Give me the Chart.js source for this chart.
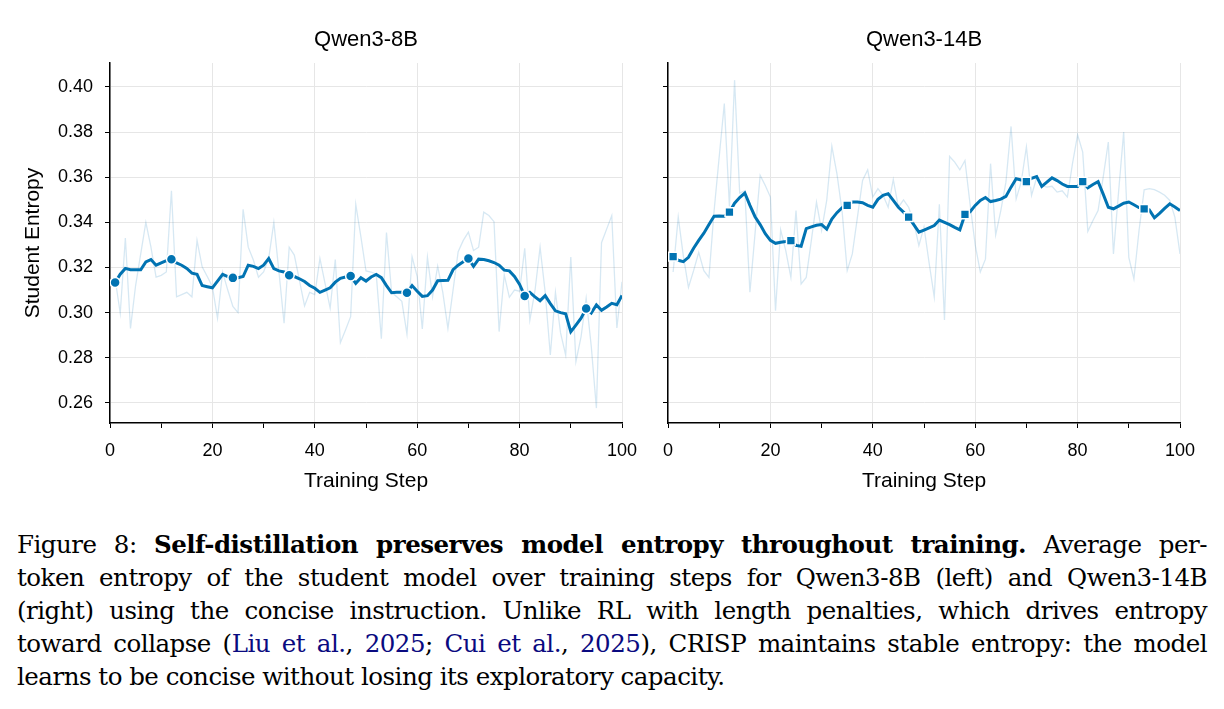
<!DOCTYPE html>
<html>
<head>
<meta charset="utf-8">
<script src="https://cdn.jsdelivr.net/npm/chart.js@4.4.1/dist/chart.umd.min.js"></script>
<style>
  html, body { margin: 0; padding: 0; background: #fff; }
  body { width: 1224px; height: 709px; position: relative; overflow: hidden; }
  .box { position: absolute; top: 0; height: 510px; }
  #left { left: 0; width: 640px; }
  #right { left: 640px; width: 584px; }
  #caption {
    position: absolute; left: 17px; top: 528px; width: 1190px;
    font-family: "DejaVu Serif", "Liberation Serif", serif;
    font-size: 24.5px; letter-spacing: -0.5px; line-height: 33px; color: #000;
  }
  .ln { text-align: justify; text-align-last: justify; }
  .ln.last { text-align-last: left; }
  .ref { color: #0a0a80; }
</style>
</head>
<body>
<div class="box" id="left"><canvas id="c8"></canvas></div>
<div class="box" id="right"><canvas id="c14"></canvas></div>
<div id="caption">
  <div class="ln">Figure 8: <b>Self-distillation preserves model entropy throughout training.</b> Average per-</div>
  <div class="ln">token entropy of the student model over training steps for Qwen3-8B (left) and Qwen3-14B</div>
  <div class="ln">(right) using the concise instruction. Unlike RL with length penalties, which drives entropy</div>
  <div class="ln">toward collapse (<span class="ref">Liu et al.</span>, <span class="ref">2025</span>; <span class="ref">Cui et al.</span>, <span class="ref">2025</span>), CRISP maintains stable entropy: the model</div>
  <div class="ln last">learns to be concise without losing its exploratory capacity.</div>
</div>
<script>
// training steps 1..100
const steps = Array.from({ length: 100 }, (_, i) => i + 1);
const markerSteps = [1, 12, 24, 35, 47, 58, 70, 81, 93];
const xTicks = [0, 10, 20, 30, 40, 50, 60, 70, 80, 90, 100];
const yTicks = [0.26, 0.28, 0.30, 0.32, 0.34, 0.36, 0.38, 0.40];

// Qwen3-8B: raw per-step entropy and smoothed curve
const raw8 = [
  0.315, 0.2997, 0.3331, 0.293, 0.312, 0.326, 0.340, 0.329, 0.3157, 0.3165,
  0.318, 0.354, 0.307, 0.308, 0.309, 0.307, 0.332, 0.3203, 0.316, 0.3115,
  0.2975, 0.318, 0.310, 0.3027, 0.300, 0.3458, 0.329, 0.3233, 0.3157, 0.318,
  0.324, 0.340, 0.318, 0.2953, 0.329, 0.3255, 0.3143, 0.303, 0.309, 0.308,
  0.324, 0.313, 0.302, 0.3235, 0.2867, 0.2923, 0.2982, 0.348, 0.3337, 0.3185,
  0.318, 0.317, 0.2884, 0.3355, 0.309, 0.307, 0.305, 0.2905, 0.3247, 0.316,
  0.2928, 0.3245, 0.307, 0.3206, 0.309, 0.293, 0.310, 0.327, 0.332, 0.3357,
  0.3275, 0.329, 0.3445, 0.343, 0.3403, 0.2916, 0.3167, 0.3068, 0.310, 0.3095,
  0.3285, 0.2967, 0.3096, 0.329, 0.309, 0.2812, 0.309, 0.291, 0.2812, 0.3246,
  0.2783, 0.2893, 0.3064, 0.285, 0.2577, 0.331, 0.337, 0.343, 0.2932, 0.3137
];
const smooth8 = [
  0.3133, 0.317, 0.3196, 0.319, 0.319, 0.319, 0.3225, 0.3235, 0.321, 0.322,
  0.323, 0.3237, 0.322, 0.321, 0.3196, 0.3175, 0.317, 0.312, 0.3115, 0.311,
  0.314, 0.317, 0.316, 0.3154, 0.3155, 0.316, 0.321, 0.3205, 0.3195, 0.321,
  0.324, 0.3195, 0.3185, 0.318, 0.3166, 0.316, 0.315, 0.3138, 0.312, 0.3108,
  0.309, 0.310, 0.311, 0.3135, 0.3152, 0.3158, 0.3162, 0.313, 0.3155, 0.314,
  0.3158, 0.3169, 0.3155, 0.312, 0.3088, 0.309, 0.309, 0.3088, 0.312, 0.3095,
  0.3072, 0.3075, 0.310, 0.3141, 0.3142, 0.3143, 0.319, 0.321, 0.3225, 0.324,
  0.3205, 0.3237, 0.3235, 0.323, 0.3222, 0.321, 0.3188, 0.3185, 0.316, 0.3125,
  0.3074, 0.309, 0.307, 0.3053, 0.3075, 0.304, 0.3008, 0.300, 0.2995, 0.2915,
  0.2945, 0.2975, 0.3018, 0.2998, 0.3034, 0.301, 0.3025, 0.3041, 0.3035, 0.3076
];

// Qwen3-14B
const raw14 = [
  0.318, 0.3423, 0.325, 0.3112, 0.3186, 0.3267, 0.3186, 0.3156, 0.345, 0.369,
  0.3926, 0.347, 0.403, 0.353, 0.354, 0.309, 0.335, 0.3608, 0.3563, 0.3512,
  0.3008, 0.3367, 0.3275, 0.3156, 0.3452, 0.3127, 0.3156, 0.332, 0.3489, 0.3364,
  0.3497, 0.3737, 0.3615, 0.345, 0.3186, 0.326, 0.3423, 0.3586, 0.3633, 0.3512,
  0.3549, 0.352, 0.3467, 0.359, 0.3467, 0.350, 0.3467, 0.340, 0.3297, 0.338,
  0.322, 0.307, 0.348, 0.2967, 0.3692, 0.3667, 0.3633, 0.3674, 0.348, 0.330,
  0.318, 0.3237, 0.366, 0.3345, 0.3452, 0.3578, 0.3825, 0.3504, 0.358, 0.3734,
  0.3519, 0.3597, 0.3563, 0.3556, 0.356, 0.3534, 0.354, 0.3512, 0.366, 0.3788,
  0.3711, 0.336, 0.3408, 0.3452, 0.360, 0.3756, 0.326, 0.3534, 0.380, 0.3245,
  0.3149, 0.3364, 0.3544, 0.3549, 0.3545, 0.3534, 0.352, 0.3497, 0.3423, 0.326
];
const smooth14 = [
  0.3248, 0.3232, 0.3226, 0.3245, 0.3285, 0.332, 0.3352, 0.339, 0.3427, 0.3428,
  0.3427, 0.3445, 0.3485, 0.351, 0.353, 0.3475, 0.3425, 0.339, 0.335, 0.332,
  0.3307, 0.3312, 0.3315, 0.3319, 0.3298, 0.3294, 0.3372, 0.338, 0.3387, 0.339,
  0.337, 0.3415, 0.3443, 0.3465, 0.3475, 0.349, 0.349, 0.3487, 0.3475, 0.3467,
  0.3502, 0.352, 0.3527, 0.3497, 0.3467, 0.3445, 0.3423, 0.339, 0.3357, 0.3366,
  0.3376, 0.3386, 0.341, 0.340, 0.339, 0.3378, 0.3367, 0.3435, 0.3447, 0.3475,
  0.3497, 0.351, 0.3492, 0.3497, 0.3503, 0.3515, 0.3556, 0.3593, 0.3588, 0.358,
  0.3595, 0.3603, 0.3559, 0.3578, 0.3597, 0.3585, 0.357, 0.3559, 0.3559, 0.3559,
  0.358, 0.3553, 0.3568, 0.358, 0.3525, 0.3467, 0.346, 0.3472, 0.3485, 0.349,
  0.3478, 0.3465, 0.346, 0.3455, 0.342, 0.344, 0.3462, 0.3482, 0.3468, 0.3452
];

const blue = "#0173b2";
const rawColor = "rgba(1, 115, 178, 0.16)";
const gridColor = "#e6e6e6";

Chart.defaults.font.family = "'Liberation Sans', Arial, sans-serif";
Chart.defaults.color = "#000";

function pts(vals) {
  return steps.map((s, i) => ({ x: s, y: vals[i] }));
}

function makeChart(id, title, raw, smooth, marker, isLeft) {
  const mr = marker === "rect" ? 6.2 : 5;
  return new Chart(document.getElementById(id), {
    type: "line",
    data: {
      datasets: [
        {
          data: pts(smooth),
          borderColor: blue,
          borderWidth: 3,
          tension: 0,
          pointStyle: marker,
          pointRadius: ctx => markerSteps.includes(ctx.raw && ctx.raw.x) ? mr : 0,
          pointHoverRadius: 0,
          pointBackgroundColor: blue,
          pointBorderColor: "#fff",
          pointBorderWidth: 1.5
        },
        {
          data: pts(raw),
          borderColor: rawColor,
          borderWidth: 1.3,
          tension: 0,
          pointRadius: 0
        }
      ]
    },
    options: {
      responsive: true,
      maintainAspectRatio: false,
      animation: false,
      events: [],
      layout: { padding: { left: 0, right: isLeft ? 18 : 44, top: 0, bottom: 0 } },
      plugins: {
        legend: { display: false },
        tooltip: { enabled: false },
        title: {
          display: true,
          text: title,
          fullSize: false,
          font: { size: 22, weight: "normal" },
          padding: { top: 26.8, bottom: 9.8 },
          color: "#000"
        }
      },
      scales: {
        x: {
          type: "linear",
          min: 0,
          max: 100,
          afterBuildTicks: s => { s.ticks = xTicks.map(v => ({ value: v })); },
          afterFit: s => { s.height = 87; s.paddingLeft = 0; s.paddingRight = 0; },
          ticks: {
            font: { size: 18 },
            padding: 12,
            maxRotation: 0,
            callback: v => (v % 20 === 0 ? String(v) : "")
          },
          grid: {
            color: ctx => (ctx.tick && ctx.tick.value % 20 === 0 ? gridColor : "rgba(0,0,0,0)"),
            tickColor: "#000",
            tickLength: 5,
            lineWidth: 1
          },
          border: { display: true, color: "#000", width: 1.5 },
          title: {
            display: true,
            text: "Training Step",
            font: { size: 21 },
            padding: { top: 0, bottom: 16.4 }
          }
        },
        y: {
          min: 0.2511,
          max: 0.4106,
          afterBuildTicks: s => { s.ticks = yTicks.map(v => ({ value: v })); },
          afterFit: s => { s.width = isLeft ? 110 : 28; s.paddingTop = 0; s.paddingBottom = 0; },
          ticks: {
            font: { size: 18 },
            padding: 12,
            callback: v => (isLeft ? v.toFixed(2) : "")
          },
          grid: { color: gridColor, tickColor: "#000", tickLength: 5, lineWidth: 1 },
          border: { display: true, color: "#000", width: 1.5 },
          title: {
            display: isLeft,
            text: "Student Entropy",
            font: { size: 21 },
            padding: { top: 20.4, bottom: 0 }
          }
        }
      }
    }
  });
}

makeChart("c8", "Qwen3-8B", raw8, smooth8, "circle", true);
makeChart("c14", "Qwen3-14B", raw14, smooth14, "rect", false);
</script>
</body>
</html>
